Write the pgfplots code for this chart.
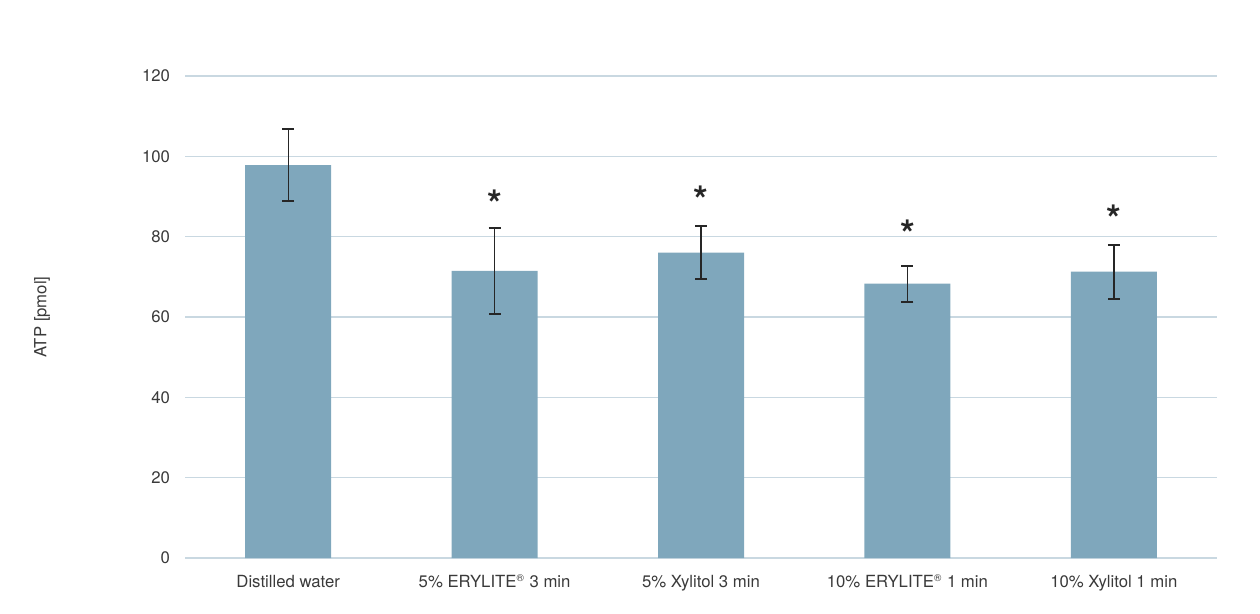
\documentclass[border=0pt]{standalone}
\usepackage{pgfplots}
\pgfplotsset{compat=1.18}
\usepackage{fontspec}
\setmainfont{TeX Gyre Heros}
\usetikzlibrary{calc}
\definecolor{barblue}{HTML}{7FA7BC}
\definecolor{gridc}{HTML}{C9D8E1}
\definecolor{txt}{HTML}{3A3A3A}
\begin{document}
\begin{tikzpicture}
\begin{axis}[
  scale only axis, width=516bp, height=241bp,
  xmin=-0.5, xmax=4.5, ymin=0, ymax=120,
  axis line style={draw=none},
  ytick={0,20,...,120}, xtick={0,1,2,3,4},
  xticklabels={Distilled water, 5\% ERYLITE\textsuperscript{\tiny\textregistered} 3 min, 5\% Xylitol 3 min, 10\% ERYLITE\textsuperscript{\tiny\textregistered} 1 min, 10\% Xylitol 1 min},
  major tick length=0pt,
  ymajorgrids, grid style={gridc, line width=0.6bp},
  tick label style={txt, font=\fontsize{8.4}{10}\selectfont},
  /pgf/number format/assume math mode=true,
  yticklabel style={xshift=-4bp},
  xticklabel style={yshift=-5bp},
  ylabel={ATP [pmol]}, ylabel style={txt, font=\fontsize{8.4}{10}\selectfont, at={(-71.5bp,0.5)}, anchor=center},
]
\addplot[ybar, bar width=43bp, fill=barblue, draw=none,
  error bars/.cd, y dir=both, y explicit,
  error bar style={black!85, line width=0.7bp},
  error mark options={black!85, line width=1bp, mark size=3bp, rotate=90}]
  coordinates {
    (0,97.8) +- (0,8.9)
    (1,71.5) +- (0,10.7)
    (2,76.0) +- (0,6.6)
    (3,68.3) +- (0,4.5)
    (4,71.3) +- (0,6.7)
  };
\node[font=\bfseries\fontsize{19}{19}\selectfont, black!85] at (axis cs:1,88.2) {*};
\node[font=\bfseries\fontsize{19}{19}\selectfont, black!85] at (axis cs:2,89.2) {*};
\node[font=\bfseries\fontsize{19}{19}\selectfont, black!85] at (axis cs:3,80.7) {*};
\node[font=\bfseries\fontsize{19}{19}\selectfont, black!85] at (axis cs:4,84.4) {*};
\end{axis}
\path[use as bounding box] ($(current axis.south west)+(-92.5bp,-27.5bp)$) rectangle ($(current axis.north east)+(21.5bp,38bp)$);
\end{tikzpicture}
\end{document}
